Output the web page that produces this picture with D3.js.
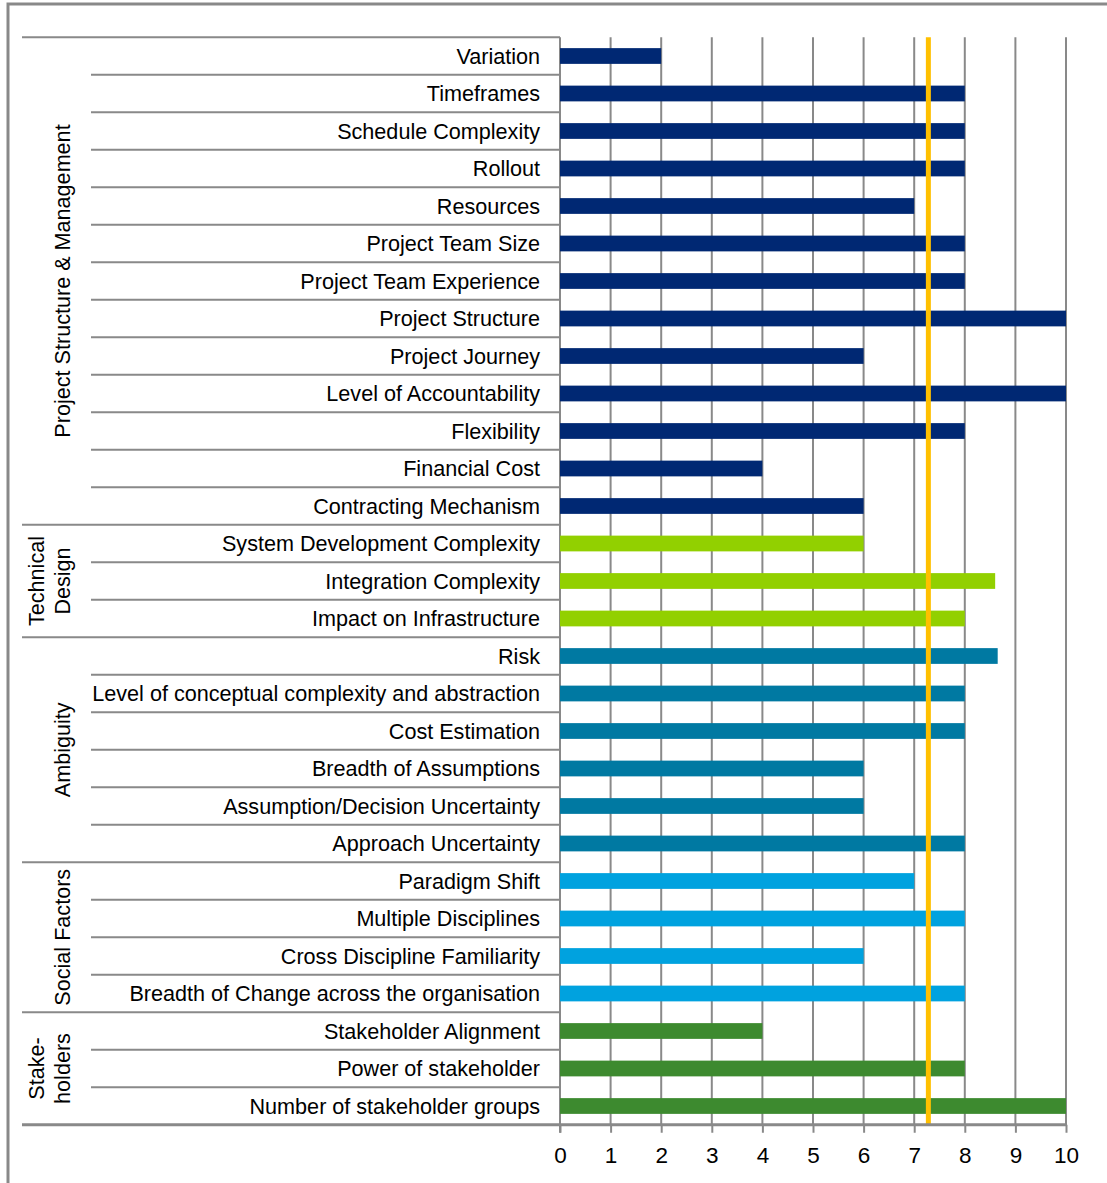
<!DOCTYPE html>
<html><head><meta charset="utf-8">
<script src="https://cdn.jsdelivr.net/npm/d3@7/dist/d3.min.js"></script>
<style>
html,body{margin:0;padding:0;background:#fff;overflow:hidden;}
svg{display:block;font-family:"Liberation Sans",Arial,sans-serif;}
</style></head><body>
<svg id="chart" width="1107" height="1183"></svg>
<script>
// ---- data ----
const groups = ["Project Structure & Management","Technical Design","Ambiguity","Social Factors","Stakeholders"];
const groupLabelLines = [["Project Structure & Management"],["Technical","Design"],["Ambiguity"],["Social Factors"],["Stake-","holders"]];
const groupColors = ["#002873","#92D000","#0079A2","#00A2DF","#3D8A2F"];
const categories = [
 "Variation","Timeframes","Schedule Complexity","Rollout","Resources","Project Team Size",
 "Project Team Experience","Project Structure","Project Journey","Level of Accountability",
 "Flexibility","Financial Cost","Contracting Mechanism",
 "System Development Complexity","Integration Complexity","Impact on Infrastructure",
 "Risk","Level of conceptual complexity and abstraction","Cost Estimation","Breadth of Assumptions",
 "Assumption/Decision Uncertainty","Approach Uncertainty",
 "Paradigm Shift","Multiple Disciplines","Cross Discipline Familiarity","Breadth of Change across the organisation",
 "Stakeholder Alignment","Power of stakeholder","Number of stakeholder groups"
];
const categoryGroup = [0,0,0,0,0,0,0,0,0,0,0,0,0, 1,1,1, 2,2,2,2,2,2, 3,3,3,3, 4,4,4];
const values = [2,8,8,8,7,8,8,10,6,10,8,4,6, 6,8.6,8, 8.65,8,8,6,6,8, 7,8,6,8, 4,8,10];
const averageLine = 7.28;
const xTicks = [0,1,2,3,4,5,6,7,8,9,10];

// ---- layout ----
const svg = d3.select("#chart");
const plotLeft = 560, plotRight = 1066, plotTop = 37.25, plotBottom = 1124.75;
const tableLeft = 22, rowLineLeft = 91, labelRight = 540;
const gray = "#898989";
const FS = 21.6;

const x = d3.scaleLinear().domain([0,10]).range([plotLeft, plotRight]);
const y = d3.scaleBand().domain(categories).range([plotTop, plotBottom]).paddingInner(0.58).paddingOuter(0.29);
const step = y.step();

// frame (left & top only visible)
svg.append("path").attr("d", `M8,1200 V4 H1120`).attr("fill","none").attr("stroke",gray).attr("stroke-width",3);

// gridlines
svg.append("g").selectAll("line").data(xTicks.filter(d=>d>0)).join("line")
  .attr("x1", d=>x(d)).attr("x2", d=>x(d)).attr("y1", plotTop).attr("y2", plotBottom)
  .attr("stroke", gray).attr("stroke-width", 2);

// row separator lines
const rowTop = (c) => y(c) - step*y.paddingInner()/2;
svg.append("g").selectAll("line").data(categories).join("line")
  .attr("x1", (c,i) => (i===0 || categoryGroup[i]!==categoryGroup[i-1]) ? tableLeft : rowLineLeft)
  .attr("x2", plotLeft)
  .attr("y1", c => rowTop(c)).attr("y2", c => rowTop(c))
  .attr("stroke", gray).attr("stroke-width", 2);

// left vertical line of plot
svg.append("line").attr("x1",plotLeft).attr("x2",plotLeft).attr("y1",plotTop).attr("y2",plotBottom+8)
  .attr("stroke",gray).attr("stroke-width",2);

// bars
svg.append("g").selectAll("rect").data(categories).join("rect")
  .attr("x", x(0)).attr("y", c => y(c))
  .attr("width", (c,i) => x(values[i]) - x(0))
  .attr("height", y.bandwidth())
  .attr("fill", (c,i) => groupColors[categoryGroup[i]]);

// average line
svg.append("line").attr("x1",x(averageLine)).attr("x2",x(averageLine)).attr("y1",plotTop).attr("y2",plotBottom)
  .attr("stroke","#FFC000").attr("stroke-width",5);

// category labels
svg.append("g").selectAll("text").data(categories).join("text")
  .attr("x", labelRight).attr("y", c => y(c) + y.bandwidth()/2)
  .attr("dy","0.35em").attr("text-anchor","end")
  .attr("font-size", FS).attr("fill","#000").text(c=>c);

// group labels
groups.forEach((g, gi) => {
  const idx = categoryGroup.map((v,i)=>v===gi?i:-1).filter(i=>i>=0);
  const top = rowTop(categories[idx[0]]);
  const bottom = rowTop(categories[idx[idx.length-1]]) + step;
  const cy = (top+bottom)/2;
  const lines = groupLabelLines[gi];
  const t = svg.append("text").attr("transform", `translate(0,${cy}) rotate(-90)`)
    .attr("text-anchor","middle").attr("font-size",FS).attr("fill","#000");
  lines.forEach((ln, li) => {
    const xc = lines.length === 1 ? 62 : (li===0 ? 36 : 62);
    t.append("tspan").attr("x",0).attr("y", xc).attr("dy","0.35em").text(ln);
  });
});

// bottom axis
const axis = d3.axisBottom(x).tickValues(xTicks).tickSize(8).tickPadding(14).tickFormat(d3.format("d"));
const ag = svg.append("g").attr("transform", `translate(0,${plotBottom})`).call(axis);
ag.select(".domain").remove();
ag.selectAll(".tick line").attr("stroke",gray).attr("stroke-width",2);
ag.selectAll(".tick text").attr("font-size",22.5).attr("fill","#000").attr("font-family","'Liberation Sans',Arial,sans-serif");
// bottom axis line spans table too
svg.append("line").attr("x1",tableLeft).attr("x2",plotRight+1).attr("y1",plotBottom).attr("y2",plotBottom)
  .attr("stroke",gray).attr("stroke-width",3);
</script>
</body></html>
